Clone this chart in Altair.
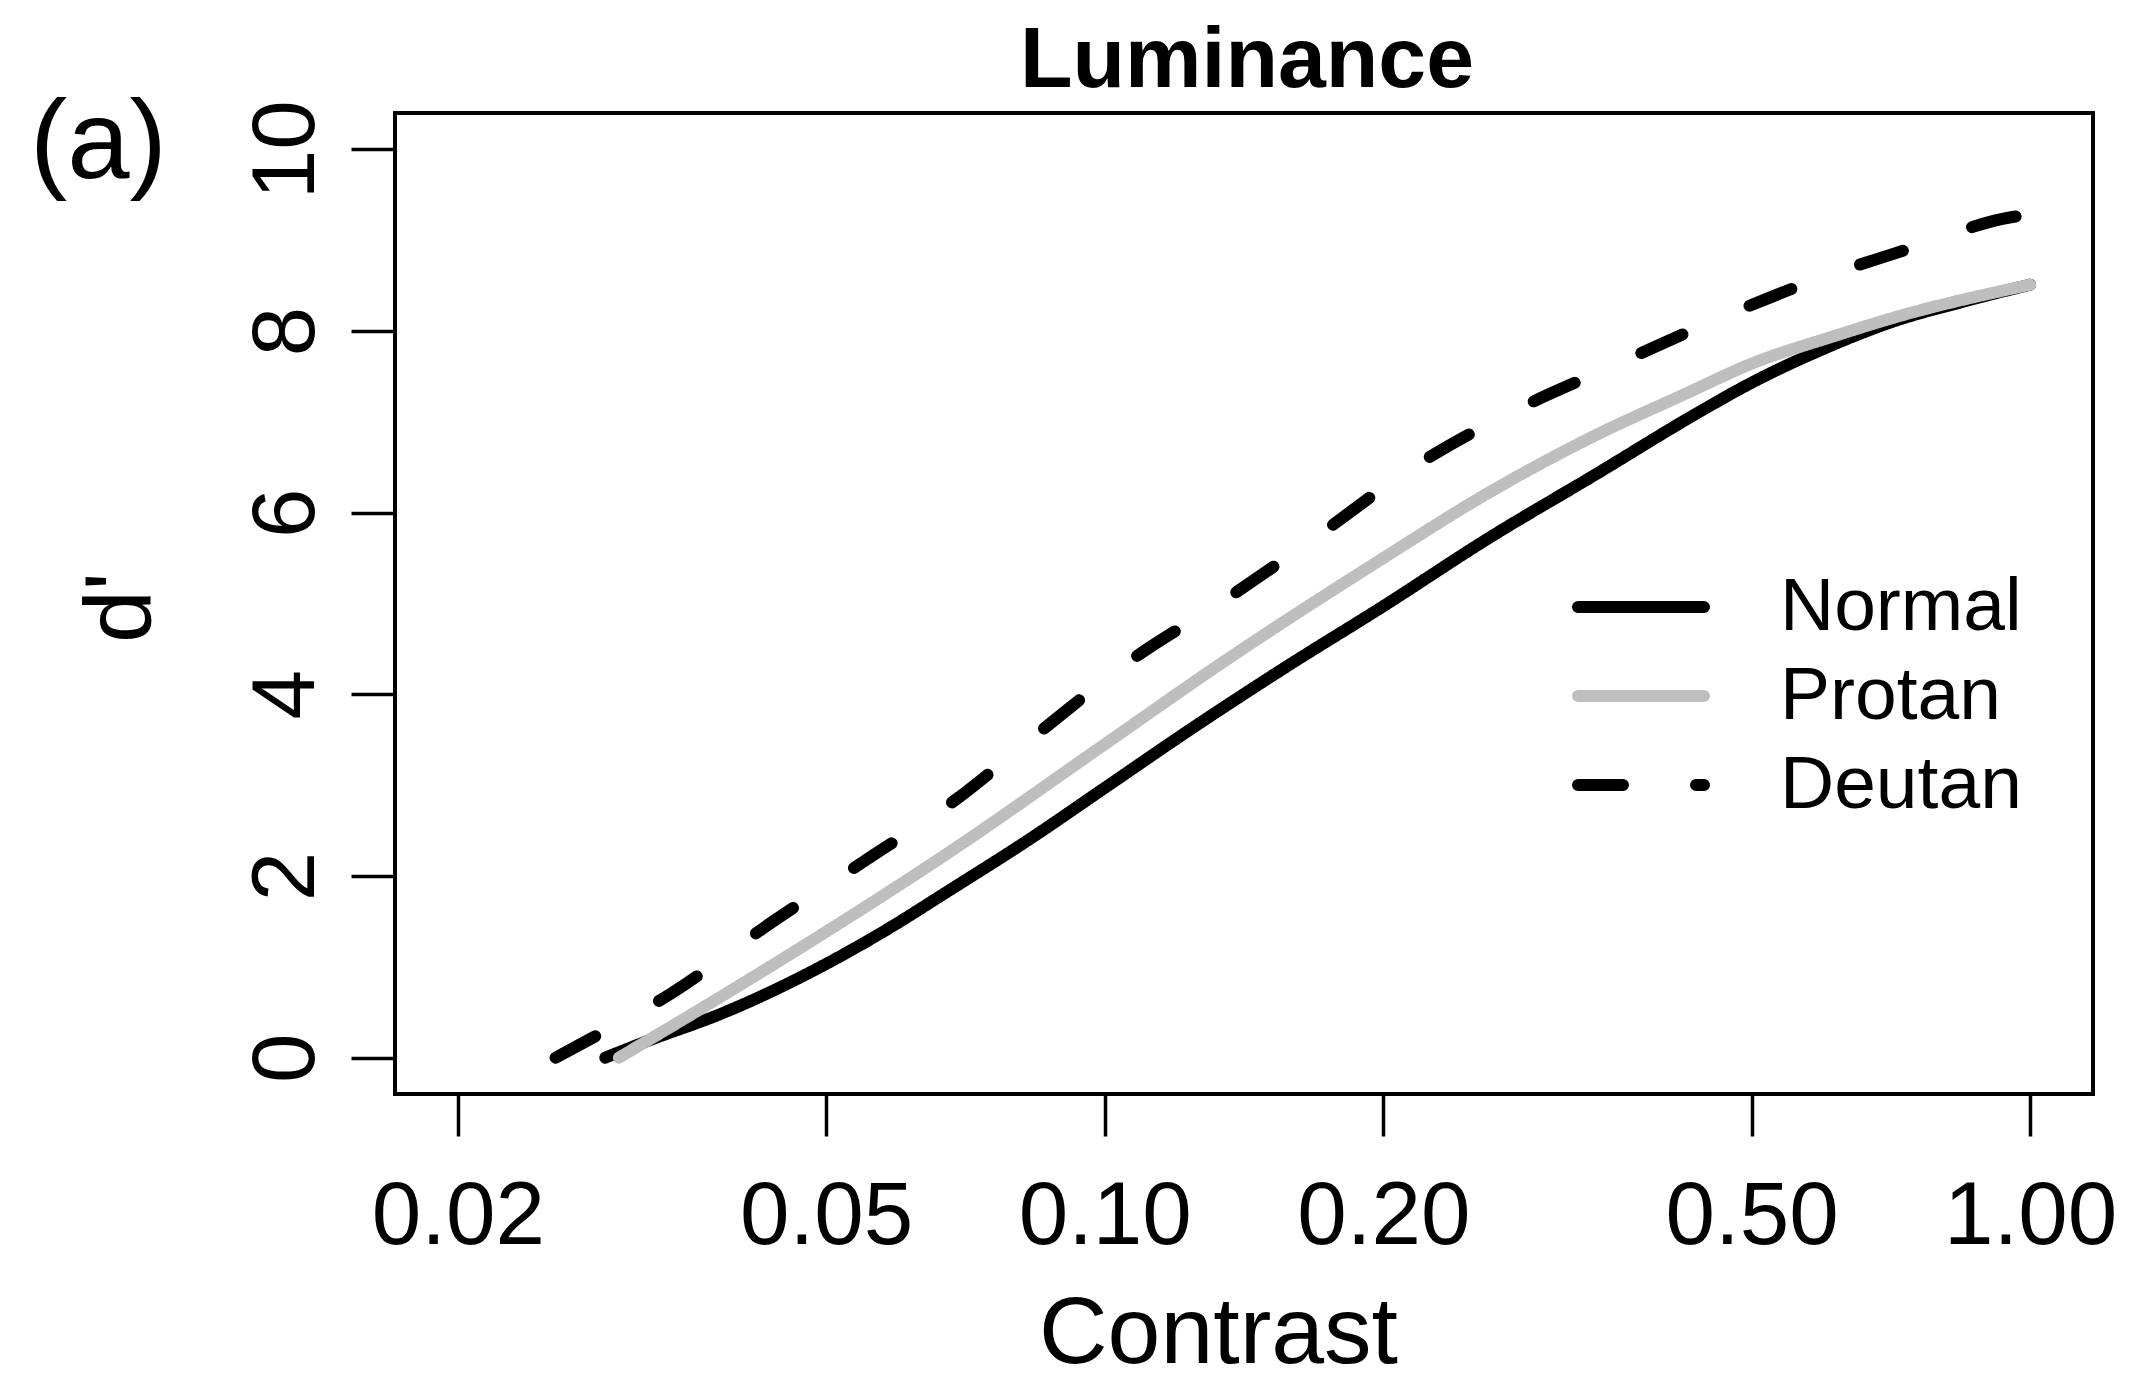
import altair as alt
import pandas as pd

# ---- data ----
series_names = ["Normal", "Protan", "Deutan"]
series_colors = ["#000000", "#bebebe", "#000000"]
series_dashes = [[1, 0], [1, 0], [45, 73]]

normal_contrast = [0.02886, 0.03226, 0.03842, 0.04881, 0.05814, 0.06764, 0.08279, 0.1,
                   0.1240, 0.1569, 0.2, 0.26, 0.3404, 0.4308, 0.5, 0.6033, 0.714, 0.8447, 1.0]
normal_dprime = [0.0, 0.195, 0.48, 0.976, 1.41, 1.83, 2.40, 2.97,
                 3.62, 4.30, 4.97, 5.72, 6.43, 7.06, 7.43, 7.82, 8.11, 8.32, 8.51]

protan_contrast = [0.02985, 0.03817, 0.04881, 0.06764, 0.1, 0.1327, 0.2, 0.26,
                   0.3404, 0.4224, 0.5, 0.6169, 0.714, 1.0]
protan_dprime = [0.0, 0.65, 1.32, 2.25, 3.45, 4.32, 5.50, 6.22,
                 6.86, 7.30, 7.64, 7.95, 8.15, 8.51]

deutan_contrast = [0.0255, 0.02699, 0.03416, 0.04367, 0.05471, 0.06902, 0.0859, 0.1069,
                   0.1344, 0.1701, 0.2147, 0.2744, 0.3532, 0.4546, 0.5853, 0.7534, 0.9504, 1.0]
deutan_dprime = [0.0, 0.135, 0.72, 1.49, 2.15, 2.84, 3.62, 4.38,
                 5.03, 5.75, 6.49, 7.10, 7.61, 8.11, 8.56, 8.93, 9.25, 9.28]

x_ticks = [0.02, 0.05, 0.1, 0.2, 0.5, 1.0]
y_ticks = [0, 2, 4, 6, 8, 10]
panel_label = ["(a)"]
chart_title = ["Luminance"]

FONT = "Liberation Sans"

# draw order: Normal, Deutan, then Protan on top
frames = []
for name, cs, ds in [("Normal", normal_contrast, normal_dprime),
                     ("Deutan", deutan_contrast, deutan_dprime),
                     ("Protan", protan_contrast, protan_dprime)]:
    frames.append(pd.DataFrame({"contrast": cs, "dprime": ds, "series": name}))
df = pd.concat(frames, ignore_index=True)

x_scale = alt.Scale(type="log", domain=[0.0171, 1.1695], nice=False, zero=False)
y_scale = alt.Scale(domain=[-0.4, 10.4], nice=False, zero=False)
color_scale = alt.Scale(domain=series_names, range=series_colors)
dash_scale = alt.Scale(domain=series_names, range=series_dashes)

lines = alt.Chart(df).mark_line(
    strokeWidth=12, strokeCap="round", strokeJoin="round", interpolate="monotone"
).encode(
    x=alt.X("contrast:Q", scale=x_scale,
            axis=alt.Axis(values=x_ticks, format=".2f", title="Contrast",
                          tickSize=42, tickWidth=3.5, tickColor="black",
                          labelFontSize=89, labelFont=FONT, labelColor="black",
                          labelBaseline="alphabetic", labelPadding=107,
                          labelFlush=False, labelOverlap=False,
                          domain=False, grid=False,
                          titleFontSize=95, titleFont=FONT, titleFontWeight="normal",
                          titleColor="black", titleBaseline="alphabetic",
                          titleAlign="center", titleX=823, titleY=268)),
    y=alt.Y("dprime:Q", scale=y_scale,
            axis=alt.Axis(values=y_ticks, format="d", title="d'",
                          tickSize=44, tickWidth=3.5, tickColor="black",
                          labelFontSize=89, labelFont=FONT, labelColor="black",
                          labelAngle=270, labelAlign="center",
                          labelBaseline="alphabetic", labelPadding=38,
                          labelFlush=False, labelOverlap=False,
                          domain=False, grid=False,
                          titleFontSize=95, titleFont=FONT, titleFontWeight="normal",
                          titleColor="black", titleAngle=270,
                          titleBaseline="alphabetic", titleAlign="center",
                          titleX=-245, titleY=494)),
    color=alt.Color("series:N", scale=color_scale, legend=None),
    strokeDash=alt.StrokeDash("series:N", scale=dash_scale, legend=None),
    detail="series:N",
)

# legend drawn from the series names, placed on its own point scale
legend_df = pd.DataFrame({"series": series_names})
legend_y = alt.Y("series:N", scale=alt.Scale(type="point", domain=series_names,
                                             range=[494, 672], padding=0),
                 axis=None)
legend_lines = alt.Chart(legend_df).mark_rule(strokeWidth=12, strokeCap="round").encode(
    y=legend_y, x=alt.value(1183), x2=alt.value(1309),
    color=alt.Color("series:N", scale=color_scale, legend=None),
    strokeDash=alt.StrokeDash("series:N", scale=dash_scale, legend=None),
)
legend_text = alt.Chart(legend_df).mark_text(
    align="left", baseline="middle", fontSize=75, font=FONT, color="black"
).encode(y=legend_y, x=alt.value(1385), text="series:N")
legend_layer = alt.layer(legend_lines, legend_text)

label = alt.Chart(pd.DataFrame({"label": panel_label})).mark_text(
    align="left", baseline="alphabetic", fontSize=112, font=FONT, color="black"
).encode(x=alt.value(-365), y=alt.value(65), text="label:N")

title = alt.Chart(pd.DataFrame({"label": chart_title})).mark_text(
    align="center", baseline="alphabetic", fontSize=86, fontWeight="bold",
    font=FONT, color="black"
).encode(x=alt.value(852), y=alt.value(-26), text="label:N")

chart = alt.layer(lines, legend_layer, label, title).resolve_scale(
    y="independent"
).properties(
    width=1698, height=981,
    autosize=alt.AutoSizeParams(type="none"),
    padding={"left": 387, "top": 105, "right": 30, "bottom": 294},
).configure(
    background="white",
    view=alt.ViewConfig(stroke="black", strokeWidth=4),
)

chart.save("out.html", embed_options={"renderer": "svg", "actions": False})
